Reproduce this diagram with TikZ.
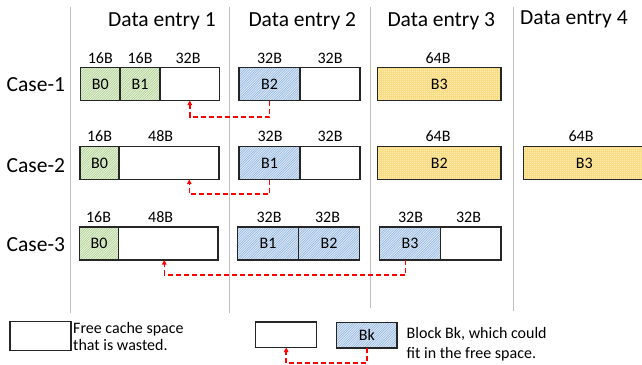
\documentclass[tikz,border=0pt]{standalone}
\usepackage{fontspec}
\setmainfont{Carlito}
\usetikzlibrary{arrows.meta}
\definecolor{gfill}{HTML}{E8F2DC}
\definecolor{gline}{HTML}{A9CF8A}
\definecolor{bfill}{HTML}{DCE8F6}
\definecolor{bline}{HTML}{8FB4DE}
\definecolor{yfill}{HTML}{FFEDB0}
\definecolor{yline}{HTML}{F9DC86}
\definecolor{divgray}{HTML}{BFBFBF}
\definecolor{arrred}{HTML}{FF0000}
\tikzset{
  box/.style={draw=black!85, line width=1.2pt, inner sep=0pt, outer sep=0pt,
    minimum height=33pt, anchor=north west, font=\fontsize{16}{19}\selectfont},
  emptybox/.style={box, fill=white},
  hatchlines/.style={path picture={
    \foreach \k in {-40,-37.6,...,130}
      \draw[color=#1, line width=0.5pt] ([xshift=\k pt]path picture bounding box.south west) -- ++(45pt,45pt);}},
  gridlines/.style={path picture={
    \foreach \k in {0,2,...,130}
      \draw[color=#1, line width=0.35pt] ([xshift=\k pt]path picture bounding box.south west) -- ++(0pt,40pt);
    \foreach \k in {0,2,...,40}
      \draw[color=#1, line width=0.35pt] ([yshift=\k pt]path picture bounding box.south west) -- ++(130pt,0pt);}},
  gblk/.style={box, fill=gfill, hatchlines=gline},
  bblk/.style={box, fill=bfill, hatchlines=bline},
  yblk/.style={box, fill=yfill, gridlines=yline},
  sizelbl/.style={anchor=base, inner sep=0pt, font=\fontsize{16}{19}\selectfont},
  header/.style={anchor=base west, inner sep=0pt, font=\fontsize{21.5}{24}\selectfont},
  divider/.style={color=divgray, line width=1pt},
  redarr/.style={color=arrred, line width=1.5pt, dash pattern=on 5pt off 3pt,
    -{Triangle[length=4.5pt,width=4.5pt]}},
  legtext/.style={anchor=north west, inner sep=0pt, align=left},
}
\begin{document}
\begin{tikzpicture}[x=1pt,y=-1pt]
\useasboundingbox (0,0) rectangle (642,364);

% dividers
\draw[divider] (70,7) -- (70,313);
\draw[divider] (229.5,7) -- (229.5,313);
\draw[divider] (370.5,7) -- (370.5,308);
\draw[divider] (513.5,7) -- (513.5,311);

% headers
\node[header] (h1) at (108,26) {Data entry 1};
\node[header] (h2) at (248.3,26) {Data entry 2};
\node[header] (h3) at (387.3,26) {Data entry 3};
\node[header] (h4) at (520,24.5) {Data entry 4};

% case labels
\node[header] (case1) at (6.5,91) {Case-1};
\node[header] (case2) at (6.5,172.5) {Case-2};
\node[header] (case3) at (6.5,251) {Case-3};

% Case-1
\node[gblk, minimum width=39.5pt] (c1b0) at (80.5,67.5) {B0};
\node[gblk, minimum width=40pt] (c1b1) at (120,67.5) {B1};
\node[emptybox, minimum width=59.5pt] (c1e) at (160,67.5) {};
\node[bblk, minimum width=61pt] (c1b2) at (239,67.5) {B2};
\node[emptybox, minimum width=60pt] (c1e2) at (300,67.5) {};
\node[yblk, minimum width=123.5pt] (c1b3) at (377.5,67.5) {B3};
\node[sizelbl] (l1a) at (100.3,63) {16B};
\node[sizelbl] (l1b) at (140,63) {16B};
\node[sizelbl] (l1c) at (188,63) {32B};
\node[sizelbl] (l1d) at (269.5,63) {32B};
\node[sizelbl] (l1e) at (330,63) {32B};
\node[sizelbl] (l1f) at (438,63) {64B};

% Case-2
\node[gblk, minimum width=39pt] (c2b0) at (80,146.5) {B0};
\node[emptybox, minimum width=100pt] (c2e) at (119,146.5) {};
\node[bblk, minimum width=61pt] (c2b1) at (239,146.5) {B1};
\node[emptybox, minimum width=60pt] (c2e2) at (300,146.5) {};
\node[yblk, minimum width=123.5pt] (c2b2) at (377.5,146.5) {B2};
\node[yblk, minimum width=121.5pt] (c2b3) at (523.5,146.5) {B3};
\node[sizelbl] (l2a) at (99.5,141) {16B};
\node[sizelbl] (l2b) at (160.7,141) {48B};
\node[sizelbl] (l2c) at (270,141) {32B};
\node[sizelbl] (l2d) at (330,141) {32B};
\node[sizelbl] (l2e) at (438,141) {64B};
\node[sizelbl] (l2f) at (581,141) {64B};

% Case-3
\node[gblk, minimum width=39pt] (c3b0) at (79.5,227) {B0};
\node[emptybox, minimum width=99.5pt] (c3e) at (118.5,227) {};
\node[bblk, minimum width=61pt] (c3b1) at (237.5,227) {B1};
\node[bblk, minimum width=61pt] (c3b2) at (298.5,227) {B2};
\node[bblk, minimum width=61pt] (c3b3) at (379.5,227) {B3};
\node[emptybox, minimum width=60.5pt] (c3e2) at (440.5,227) {};
\node[sizelbl] (l3a) at (98.5,222.3) {16B};
\node[sizelbl] (l3b) at (160.7,222.3) {48B};
\node[sizelbl] (l3c) at (269,222.3) {32B};
\node[sizelbl] (l3d) at (327.5,222.3) {32B};
\node[sizelbl] (l3e) at (410.5,222.3) {32B};
\node[sizelbl] (l3f) at (468.5,222.3) {32B};

% connectors
\draw[redarr] (c1b2.south) -- ++(0,16.5) -| (c1e.south);
\draw[redarr] (c2b1.south) -- ++(0,14.5) -| ([xshift=20.3pt]c2e.south);
\draw[redarr] ([xshift=-4.3pt]c3b3.south) -- ++(0,15) -| ([xshift=-4pt]c3e.south);

% legend
\node[emptybox, minimum width=61pt, minimum height=28.5pt] (leg1) at (10,321.7) {};
\node[legtext, font=\fontsize{16}{17.4}\selectfont] (leg1t) at (73,322) {Free cache space\\that is wasted.};
\node[emptybox, minimum width=61pt, minimum height=25.5pt] (leg2) at (255.7,322) {};
\node[bblk, minimum width=60.3pt, minimum height=25.3pt] (legbk) at (336.7,322.7) {Bk};
\node[legtext, font=\fontsize{16}{19.3}\selectfont] (leg2t) at (406.5,327.5) {Block Bk, which could\\fit in the free space.};
\draw[redarr] (legbk.south) -- ++(0,15) -| (leg2.south);
\end{tikzpicture}
\end{document}
